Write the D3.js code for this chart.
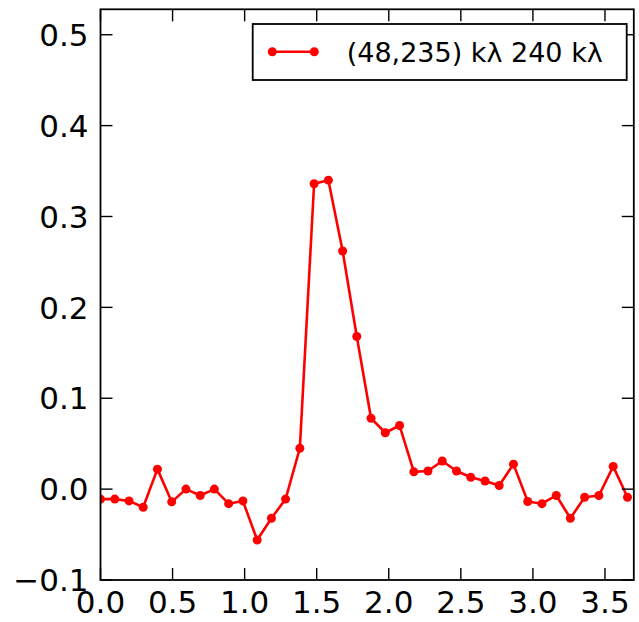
<!DOCTYPE html>
<html>
<head>
<meta charset="utf-8">
<script src="https://cdn.jsdelivr.net/npm/d3@7"></script>
<style>
  body { margin: 0; background: #fff; }
  text { font-family: "DejaVu Sans", sans-serif; fill: #000; }
</style>
</head>
<body>
<svg id="chart" width="639" height="622"></svg>
<script>
// Data
const xValues = [0.000, 0.099, 0.198, 0.296, 0.395, 0.494, 0.593, 0.692, 0.790, 0.889,
                 0.988, 1.087, 1.186, 1.284, 1.383, 1.482, 1.581, 1.680, 1.778, 1.877,
                 1.976, 2.075, 2.174, 2.272, 2.371, 2.470, 2.569, 2.668, 2.766, 2.865,
                 2.964, 3.063, 3.162, 3.260, 3.359, 3.458, 3.557, 3.656];
const yValues = [-0.011, -0.011, -0.013, -0.020, 0.022, -0.014, 0.000, -0.007, 0.000, -0.016,
                 -0.013, -0.056, -0.032, -0.011, 0.045, 0.336, 0.340, 0.262, 0.168, 0.078,
                 0.062, 0.070, 0.019, 0.020, 0.031, 0.020, 0.013, 0.009, 0.004, 0.0275,
                 -0.0136, -0.016, -0.007, -0.032, -0.009, -0.007, 0.025, -0.009];
const xTicks = [0.0, 0.5, 1.0, 1.5, 2.0, 2.5, 3.0, 3.5];
const yTicks = [-0.1, 0.0, 0.1, 0.2, 0.3, 0.4, 0.5];
const seriesLabel = "(48,235) kλ 240 kλ";

const svg = d3.select("#chart");
const L = 100.5, R = 633.8, T = 9.3, B = 580;
const x = d3.scaleLinear().domain([0, 3.7]).range([L, R]);
const y = d3.scaleLinear().domain([-0.1, 0.528]).range([B, T]);
const fmt = d3.format(".1f");
const tickLen = 12, tickW = 1.4;

// data line
const color = "#ff0000";
const pts = xValues.map((v, i) => [v, yValues[i]]);
const clip = svg.append("clipPath").attr("id", "clip")
  .append("rect").attr("x", L).attr("y", T).attr("width", R - L).attr("height", B - T);
const g = svg.append("g").attr("clip-path", "url(#clip)");
g.append("path")
  .datum(pts)
  .attr("fill", "none")
  .attr("stroke", color)
  .attr("stroke-width", 2.6)
  .attr("stroke-linejoin", "round")
  .attr("d", d3.line().x(d => x(d[0])).y(d => y(d[1])));
g.selectAll("circle").data(pts).join("circle")
  .attr("cx", d => x(d[0])).attr("cy", d => y(d[1]))
  .attr("r", 4.5).attr("fill", color);

// ticks (inward, all four sides)
const tk = svg.append("g").attr("stroke", "#000").attr("stroke-width", tickW);
xTicks.forEach(t => {
  tk.append("line").attr("x1", x(t)).attr("x2", x(t)).attr("y1", B).attr("y2", B - tickLen);
  tk.append("line").attr("x1", x(t)).attr("x2", x(t)).attr("y1", T).attr("y2", T + tickLen);
});
yTicks.forEach(t => {
  tk.append("line").attr("x1", L).attr("x2", L + tickLen).attr("y1", y(t)).attr("y2", y(t));
  tk.append("line").attr("x1", R).attr("x2", R - tickLen).attr("y1", y(t)).attr("y2", y(t));
});

// tick labels
svg.append("g").selectAll("text").data(xTicks).join("text")
  .attr("x", d => x(d)).attr("y", 613)
  .attr("text-anchor", "middle")
  .style("font-size", "31px")
  .text(d => fmt(d));
svg.append("g").selectAll("text").data(yTicks).join("text")
  .attr("x", 88.5).attr("y", d => y(d))
  .attr("dy", "0.36em")
  .attr("text-anchor", "end")
  .style("font-size", "31px")
  .text(d => fmt(d));

// spines
svg.append("rect")
  .attr("x", L).attr("y", T).attr("width", R - L).attr("height", B - T)
  .attr("fill", "none").attr("stroke", "#000").attr("stroke-width", 1.8);

// legend
const lg = svg.append("g");
lg.append("rect").attr("x", 252.7).attr("y", 24).attr("width", 374).attr("height", 56)
  .attr("fill", "#fff").attr("stroke", "#000").attr("stroke-width", 1.8);
lg.append("line").attr("x1", 272.3).attr("x2", 314.3).attr("y1", 51.7).attr("y2", 51.7)
  .attr("stroke", color).attr("stroke-width", 2.6);
[272.3, 314.3].forEach(cx => lg.append("circle").attr("cx", cx).attr("cy", 51.7).attr("r", 4.5).attr("fill", color));
lg.append("text").attr("x", 346.7).attr("y", 62.3)
  .style("font-size", "27px")
  .text(seriesLabel);
</script>
</body>
</html>
